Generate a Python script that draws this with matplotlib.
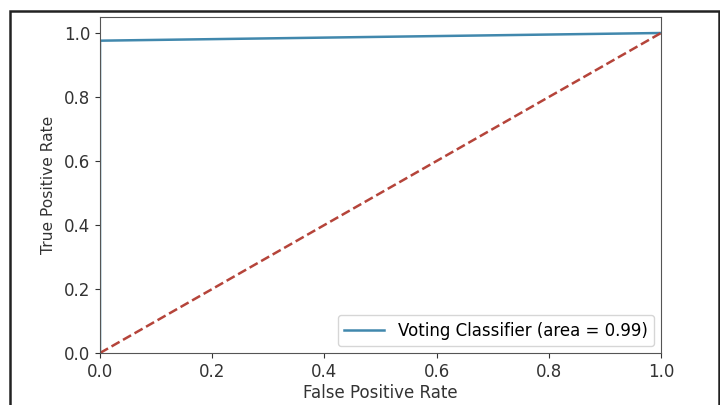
import matplotlib
matplotlib.use("Agg")
import matplotlib.pyplot as plt
from matplotlib.patches import Rectangle

fpr = [0.0, 0.0, 1.0]
tpr = [0.0, 0.976, 1.0]
roc_auc = 0.99
diag = [0.0, 1.0]
label = "Voting Classifier (area = %0.2f)" % roc_auc

plt.rcParams['font.family'] = ['DejaVu Sans']
plt.rcParams['font.size'] = 12

fig = plt.figure(figsize=(7.2, 4.05), dpi=100)
ax = fig.add_axes([100/720, 1 - 353/405, 561/720, 336/405])
ax.plot(fpr, tpr, color='#4188ad', lw=1.8, label=label)
ax.plot(diag, diag, color='#b5443a', ls='--', lw=1.8)
ax.set_xlim(0.0, 1.0)
ax.set_ylim(0.0, 1.05)
ax.set_xlabel('False Positive Rate', color='#333333', fontsize=12, labelpad=2)
ax.set_ylabel('True Positive Rate', color='#333333', fontsize=11.2, labelpad=6)
ax.tick_params(colors='#333333', labelsize=12)
for s in ax.spines.values():
    s.set_color('#555555')
ax.legend(loc='lower right', fontsize=12, borderaxespad=0.4, handlelength=2.4)

frame = Rectangle((10/720, -0.05), 708.5/720, 1.05 - 11/405, transform=fig.transFigure,
                  fill=False, edgecolor='#222222', lw=1.8, clip_on=False)
fig.patches.append(frame)

fig.savefig('out.png', dpi=100)
